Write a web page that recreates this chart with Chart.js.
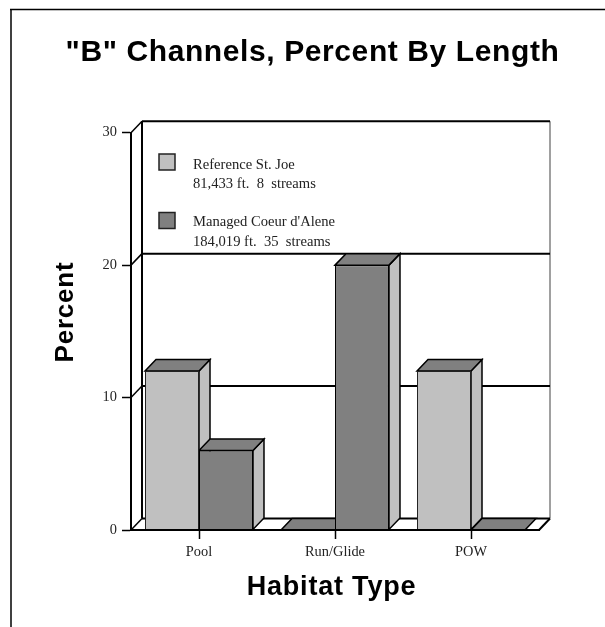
<!DOCTYPE html>
<html>
<head>
<meta charset="utf-8">
<title>"B" Channels, Percent By Length</title>
<script src="https://cdn.jsdelivr.net/npm/chart.js@4"></script>
<style>
  html, body { margin: 0; padding: 0; background: #fff; }
  canvas { display: block; }
</style>
</head>
<body>
<canvas id="chart" width="605" height="627"></canvas>
<script>
const categories = ['Pool', 'Run/Glide', 'POW'];
const referenceValues = [12, 0, 12];
const managedValues = [6, 20, 0];
const yTicks = [0, 10, 20, 30];
const referenceLegend = ['Reference St. Joe', '81,433 ft.  8  streams'];
const managedLegend = ["Managed Coeur d'Alene", '184,019 ft.  35  streams'];
const chartTitle = '"B" Channels, Percent By Length';
const xTitle = 'Habitat Type';
const yTitle = 'Percent';

const LIGHT = '#c0c0c0';
const DARK = '#808080';
const DEPTH_X = 11;
const DEPTH_Y = 11.5;

function poly(ctx, pts, fill) {
  ctx.beginPath();
  pts.forEach((p, i) => (i ? ctx.lineTo(p[0], p[1]) : ctx.moveTo(p[0], p[1])));
  ctx.closePath();
  if (fill) {
    ctx.fillStyle = fill;
    ctx.fill();
  }
  ctx.stroke();
}

function line(ctx, x1, y1, x2, y2, color, width) {
  ctx.strokeStyle = color;
  ctx.lineWidth = width;
  ctx.beginPath();
  ctx.moveTo(x1, y1);
  ctx.lineTo(x2, y2);
  ctx.stroke();
}

// page frame, back wall, floor and gridlines with the 3D offset
const wallPlugin = {
  id: 'wall',
  beforeDatasetsDraw(chart) {
    const { ctx, chartArea: a, scales: { y } } = chart;
    ctx.save();
    line(ctx, 10, 9.5, 605, 9.5, '#000', 1.5);
    line(ctx, 11, 9.5, 11, 627, '#000', 1.5);
    line(ctx, a.left + DEPTH_X, a.top - DEPTH_Y, a.left + DEPTH_X, a.bottom - DEPTH_Y, '#000', 2);
    line(ctx, a.right + DEPTH_X, a.top - DEPTH_Y, a.right + DEPTH_X, a.bottom - DEPTH_Y, '#808080', 1.5);
    y.ticks.forEach(t => {
      const py = y.getPixelForValue(t.value);
      line(ctx, a.left, py, a.left + DEPTH_X, py - DEPTH_Y, '#000', 1.5);
      line(ctx, a.left + DEPTH_X, py - DEPTH_Y, a.right + DEPTH_X, py - DEPTH_Y, '#000', 2);
    });
    line(ctx, a.right, a.bottom, a.right + DEPTH_X, a.bottom - DEPTH_Y, '#000', 2);
    line(ctx, a.left, a.bottom, a.right, a.bottom, '#000', 2);

    // side and top faces of each bar, behind the native front faces
    ctx.strokeStyle = '#000';
    ctx.lineWidth = 1.5;
    chart.data.datasets.forEach((ds, i) => {
      chart.getDatasetMeta(i).data.forEach(bar => {
        const half = bar.width / 2;
        const l = bar.x - half, r = bar.x + half, t = bar.y, b = bar.base;
        if (b - t > 0) {
          poly(ctx, [[r, t], [r + DEPTH_X, t - DEPTH_Y], [r + DEPTH_X, b - DEPTH_Y], [r, b]], LIGHT);
        }
        poly(ctx, [[l, t], [l + DEPTH_X, t - DEPTH_Y], [r + DEPTH_X, t - DEPTH_Y], [r, t]], DARK);
      });
    });
    ctx.restore();
  },
  afterDatasetsDraw(chart) {
    const { ctx, chartArea: a } = chart;
    line(ctx, a.left, a.bottom, a.right, a.bottom, '#000', 2);
  }
};

// titles need letter spacing, legend sits inside the back wall with two line labels
const textPlugin = {
  id: 'texts',
  afterDraw(chart) {
    const { ctx } = chart;
    const rows = [
      { fill: LIGHT, box: 154, lines: referenceLegend, base: [169, 188] },
      { fill: DARK, box: 212.5, lines: managedLegend, base: [226, 245.5] }
    ];
    ctx.save();
    ctx.font = '14.6px "Liberation Serif"';
    ctx.textAlign = 'left';
    ctx.textBaseline = 'alphabetic';
    rows.forEach(row => {
      ctx.fillStyle = row.fill;
      ctx.strokeStyle = '#222';
      ctx.lineWidth = 1.5;
      ctx.fillRect(159, row.box, 16, 16);
      ctx.strokeRect(159, row.box, 16, 16);
      ctx.fillStyle = '#222';
      row.lines.forEach((txt, i) => ctx.fillText(txt, 193, row.base[i]));
    });

    ctx.fillStyle = '#000';
    ctx.textAlign = 'center';
    ctx.font = 'bold 30px "Liberation Sans"';
    ctx.letterSpacing = '0.6px';
    ctx.fillText(chartTitle, 312.5, 61);
    ctx.font = 'bold 27px "Liberation Sans"';
    ctx.letterSpacing = '0.8px';
    ctx.fillText(xTitle, 331.5, 595);

    ctx.translate(73, 312);
    ctx.rotate(-Math.PI / 2);
    ctx.font = 'bold 26px "Liberation Sans"';
    ctx.letterSpacing = '0.8px';
    ctx.fillText(yTitle, 0, 0);
    ctx.restore();
  }
};

new Chart(document.getElementById('chart'), {
  type: 'bar',
  data: {
    labels: categories,
    datasets: [
      { label: referenceLegend[0], data: referenceValues, backgroundColor: LIGHT, borderColor: '#222', borderWidth: 1 },
      { label: managedLegend[0], data: managedValues, backgroundColor: DARK, borderColor: '#000', borderWidth: 1 }
    ]
  },
  options: {
    responsive: false,
    animation: false,
    devicePixelRatio: 1,
    layout: { autoPadding: false, padding: { left: 87, right: 66, top: 132.7, bottom: 0 } },
    datasets: { bar: { barPercentage: 1, categoryPercentage: 0.794 } },
    plugins: {
      legend: { display: false },
      tooltip: { enabled: false },
      title: { display: false }
    },
    scales: {
      x: {
        afterFit(s) { s.height = 97; },
        grid: { offset: false, drawOnChartArea: false, tickLength: 9, tickColor: '#000', tickWidth: 1.5 },
        border: { color: '#000', width: 2 },
        ticks: { color: '#222', font: { family: '"Liberation Serif"', size: 14.4 }, padding: 5, maxRotation: 0 }
      },
      y: {
        min: yTicks[0],
        max: yTicks[yTicks.length - 1],
        afterFit(s) { s.width = 44; },
        ticks: { stepSize: 10, color: '#222', font: { family: '"Liberation Serif"', size: 14.4 }, padding: 5 },
        grid: { drawOnChartArea: false, tickLength: 9, tickColor: '#000', tickWidth: 1.5 },
        border: { color: '#000', width: 2 }
      }
    }
  },
  plugins: [wallPlugin, textPlugin]
});
</script>
</body>
</html>
